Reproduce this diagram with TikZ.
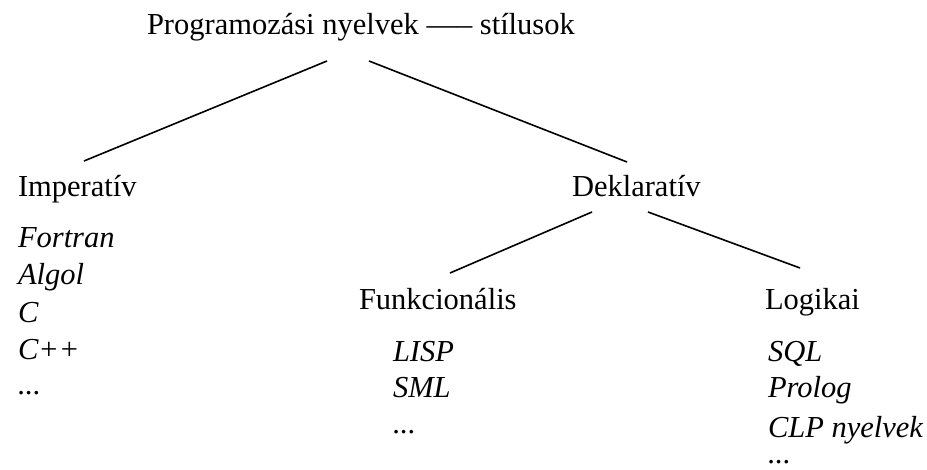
\documentclass[tikz,border=0pt]{standalone}
\usepackage{fontspec}
\setmainfont{Liberation Serif}
\begin{document}
\begin{tikzpicture}[x=1pt,y=-1pt,
  lbl/.style={anchor=base west,inner sep=0pt,outer sep=0pt,font=\fontsize{30.5}{37.5}\selectfont},
  lang/.style={lbl,font=\fontsize{30.5}{37.5}\selectfont\itshape},
  edge/.style={draw=black,line width=1.6pt}]
\useasboundingbox (0,0) rectangle (927,470);

% root
\node[lbl] (root) at (147,35) {Programozási nyelvek —– stílusok};

% imperative branch
\node[lbl] (imp) at (18,197) {Imperatív};
\node[lang] (fortran) at (18,248) {Fortran};
\node[lang] (algol) at (18,285) {Algol};
\node[lang] (c) at (18,323) {C};
\node[lang] (cpp) at (18,360) {C++};
\node[lang] (impdots) at (18,395) {...};

% declarative branch
\node[lbl] (dekl) at (572,197) {Deklaratív};
\node[lbl] (funk) at (359,310) {Funkcionális};
\node[lang] (lisp) at (393,362) {LISP};
\node[lang] (sml) at (393,398) {SML};
\node[lang] (funkdots) at (393,434) {...};
\node[lbl] (logi) at (765,310) {Logikai};
\node[lang] (sql) at (768,362) {SQL};
\node[lang] (prolog) at (768,398) {Prolog};
\node[lang] (clp) at (768,437) {CLP nyelvek};
\node[lang] (logidots) at (768,464) {...};

% connector end points
\coordinate (rootL) at (327,61);
\coordinate (rootR) at (369,61);
\coordinate (impT) at (84,161);
\coordinate (deklT) at (627,162);
\coordinate (deklL) at (592,212);
\coordinate (deklR) at (648,212);
\coordinate (funkT) at (450,273);
\coordinate (logiT) at (800,268);

\draw[edge] (rootL) -- (impT);
\draw[edge] (rootR) -- (deklT);
\draw[edge] (deklL) -- (funkT);
\draw[edge] (deklR) -- (logiT);
\end{tikzpicture}
\end{document}
